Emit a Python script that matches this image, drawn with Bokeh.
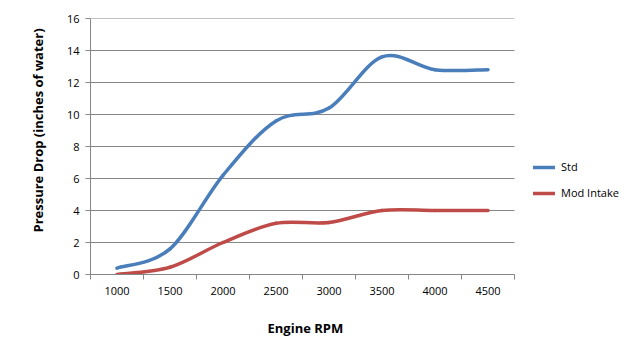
from bokeh.plotting import figure
from bokeh.models import Range1d, FixedTicker, Legend, LegendItem, Title
from bokeh.embed import file_html
from bokeh.resources import INLINE

# ---- data ----
rpm = [1000, 1500, 2000, 2500, 3000, 3500, 4000, 4500]
std = [0.4, 1.6, 6.2, 9.6, 10.4, 13.6, 12.8, 12.8]
mod_intake = [0.0, 0.45, 2.0, 3.2, 3.25, 4.0, 4.0, 4.0]
y_ticks = [0, 2, 4, 6, 8, 10, 12, 14, 16]
series_names = ["Std", "Mod Intake"]

BLUE = "#4A7EBB"
RED = "#BE4B48"
GRID = "#868686"
FONT = "Open Sans"

W, H = 632, 352
LEFT, TOP, BOTTOM = 90, 18, 78
PLOT_W = 424  # width of the category area in pixels

half = (rpm[1] - rpm[0]) / 2
boundaries = [r - half for r in rpm] + [rpm[-1] + half]
units_per_px = (boundaries[-1] - boundaries[0]) / PLOT_W
x_end = boundaries[0] + (W - LEFT) * units_per_px  # frame runs to the window edge (room for legend)

p = figure(width=W, height=H, output_backend="svg", toolbar_location=None,
           x_range=Range1d(boundaries[0], x_end), y_range=Range1d(y_ticks[0], y_ticks[-1]),
           min_border_left=LEFT, min_border_right=0, min_border_top=TOP, min_border_bottom=BOTTOM)
p.outline_line_color = None
p.background_fill_color = "white"
p.border_fill_color = "white"
p.xgrid.visible = False
p.ygrid.visible = False

# horizontal gridlines across the category area only
p.segment(x0=[boundaries[0]] * len(y_ticks), x1=[boundaries[-1]] * len(y_ticks),
          y0=y_ticks, y1=y_ticks, line_color=GRID, line_width=1)


def smooth_segments(xs, ys):
    # Excel-style smoothed line: cubic Bezier through the points
    n = len(xs)
    seg = dict(x0=[], y0=[], x1=[], y1=[], cx0=[], cy0=[], cx1=[], cy1=[])
    for i in range(n - 1):
        xp, yp = (xs[i - 1], ys[i - 1]) if i > 0 else (xs[i], ys[i])
        xn, yn = (xs[i + 2], ys[i + 2]) if i + 2 < n else (xs[i + 1], ys[i + 1])
        seg["x0"].append(xs[i]); seg["y0"].append(ys[i])
        seg["x1"].append(xs[i + 1]); seg["y1"].append(ys[i + 1])
        seg["cx0"].append(xs[i] + (xs[i + 1] - xp) / 6)
        seg["cy0"].append(ys[i] + (ys[i + 1] - yp) / 6)
        seg["cx1"].append(xs[i + 1] - (xn - xs[i]) / 6)
        seg["cy1"].append(ys[i + 1] - (yn - ys[i]) / 6)
    return seg


items = []
for name, vals, col in zip(series_names, [std, mod_intake], [BLUE, RED]):
    s = smooth_segments(rpm, vals)
    r = p.bezier(x0=s["x0"], y0=s["y0"], x1=s["x1"], y1=s["y1"],
                 cx0=s["cx0"], cy0=s["cy0"], cx1=s["cx1"], cy1=s["cy1"],
                 line_color=col, line_width=3.5, line_cap="round")
    items.append(LegendItem(label=name, renderers=[r], index=0))

# x axis
xa = p.xaxis[0]
xa.bounds = (boundaries[0], boundaries[-1])
xa.ticker = FixedTicker(ticks=rpm, minor_ticks=boundaries)
xa.major_tick_line_color = None
xa.major_tick_out = 0
xa.major_tick_in = 0
xa.minor_tick_line_color = GRID
xa.minor_tick_out = 5
xa.minor_tick_in = 0
xa.axis_line_color = GRID
xa.major_label_text_font = FONT
xa.major_label_text_font_size = "11px"
xa.major_label_text_color = "black"
xa.major_label_standoff = 7
# blank spacer label: pushes the title below further down
xa.axis_label = " "
xa.axis_label_text_font_size = "4px"
xa.axis_label_standoff = 5

xtitle = Title(text="Engine RPM", align="left", offset=177,
               text_font=FONT, text_font_style="bold", text_font_size="13px",
               text_color="black", standoff=12)
p.add_layout(xtitle, "below")

# y axis
ya = p.yaxis[0]
ya.ticker = FixedTicker(ticks=y_ticks, minor_ticks=[])
ya.major_tick_line_color = GRID
ya.major_tick_out = 5
ya.major_tick_in = 0
ya.minor_tick_line_color = None
ya.axis_line_color = GRID
ya.major_label_text_font = FONT
ya.major_label_text_font_size = "11px"
ya.major_label_text_color = "black"
ya.major_label_standoff = 6

ytitle = Title(text="Pressure Drop (inches of water)", align="left", offset=42,
               text_font=FONT, text_font_style="bold", text_font_size="13px",
               text_color="black", standoff=33)
p.add_layout(ytitle, "left")

legend = Legend(items=items, location=(443, 74), orientation="vertical",
                glyph_width=22, glyph_height=14, label_height=14, spacing=11,
                label_standoff=6, padding=0, margin=0,
                border_line_color=None, background_fill_alpha=0,
                label_text_font=FONT, label_text_font_size="11px",
                label_text_color="black")
p.add_layout(legend, "center")

open("out.html", "w").write(file_html(p, INLINE))
